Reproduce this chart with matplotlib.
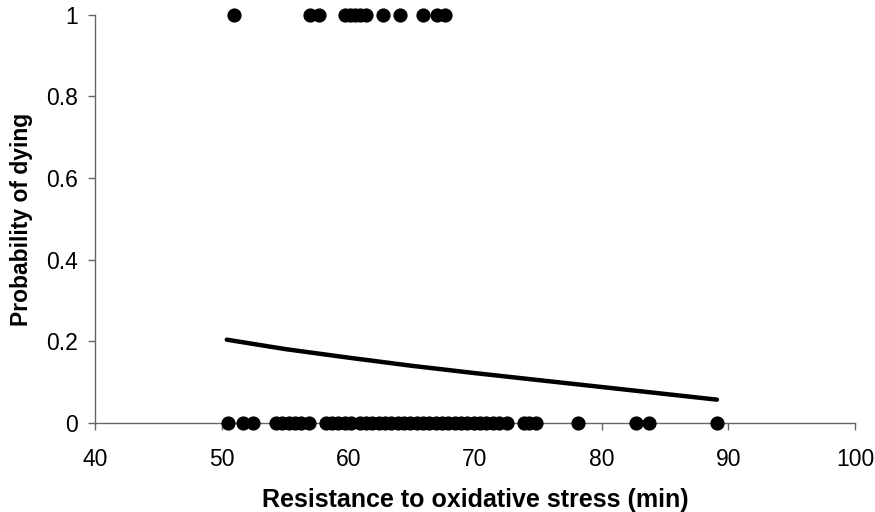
import numpy as np
import matplotlib
matplotlib.use("Agg")
import matplotlib.pyplot as plt

# individuals that died (y = 1)
dead_x = [51.0, 57.0, 57.7, 59.7, 60.1, 60.5, 60.9, 61.4, 62.7, 64.1, 65.9, 67.0, 67.6]

# individuals that survived (y = 0)
alive_x = [50.5, 51.7, 52.5, 54.3, 54.8, 55.3, 55.8, 56.3, 56.9, 58.2, 58.7, 59.2,
           59.7, 60.2, 60.9, 61.4, 61.9, 62.4, 62.9, 63.4, 63.9, 64.4, 64.9, 65.4,
           65.9, 66.4, 66.9, 67.4, 67.9, 68.4, 68.9, 69.4, 69.9, 70.4, 70.9, 71.4,
           71.9, 72.5, 73.9, 74.3, 74.8, 78.1, 82.7, 83.7, 89.1]

# fitted probability curve
fit_x = [50.4, 55, 60, 65, 70, 75, 80, 85, 89.1]
fit_y = [0.204, 0.181, 0.160, 0.140, 0.122, 0.105, 0.088, 0.071, 0.057]

plt.rcParams['font.family'] = ['Liberation Sans', 'DejaVu Sans']

fig = plt.figure(figsize=(8.75, 5.12), dpi=100)
ax = fig.add_axes([0.1086, 0.174, 0.8685, 0.797])

ax.scatter(dead_x, np.ones(len(dead_x)), s=85, color='black', clip_on=False, zorder=3)
ax.scatter(alive_x, np.zeros(len(alive_x)), s=85, color='black', clip_on=False, zorder=3)
ax.plot(fit_x, fit_y, color='black', lw=3.2, solid_capstyle='round', zorder=2)

ax.set_xlim(40, 100)
ax.set_ylim(0, 1)
ax.set_xticks(np.arange(40, 101, 10))
ax.set_yticks([0, 0.2, 0.4, 0.6, 0.8, 1])
ax.set_yticklabels(['0', '0.2', '0.4', '0.6', '0.8', '1'])

for s in ['top', 'right']:
    ax.spines[s].set_visible(False)
for s in ['left', 'bottom']:
    ax.spines[s].set_color('#666666')
    ax.spines[s].set_linewidth(1.0)

ax.tick_params(axis='both', direction='out', length=5, width=1, color='#666666',
               labelsize=16.5)
ax.tick_params(axis='x', pad=13)
ax.tick_params(axis='y', pad=7)

ax.set_xlabel('Resistance to oxidative stress (min)', fontsize=18, fontweight='bold', labelpad=12)
ax.set_ylabel('Probability of dying', fontsize=16.5, fontweight='bold', labelpad=10)

fig.savefig('out.png', dpi=100)
